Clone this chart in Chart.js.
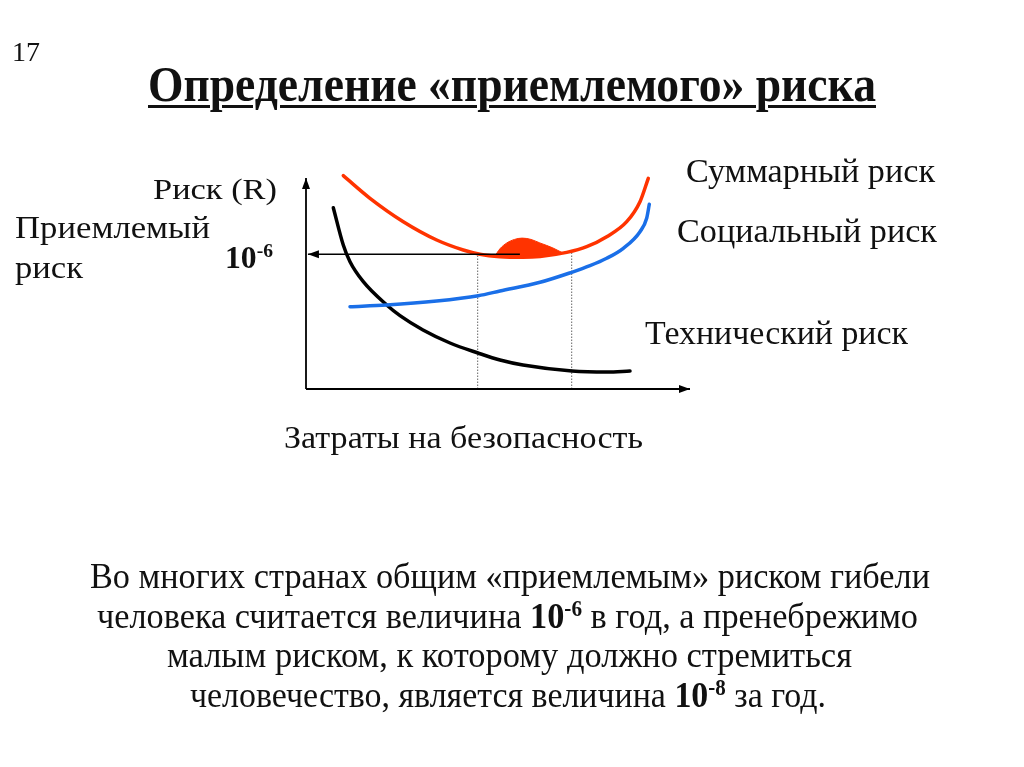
<!DOCTYPE html>
<html><head><meta charset="utf-8">
<script src="https://cdn.jsdelivr.net/npm/chart.js@4/dist/chart.umd.min.js"></script>
<style>
html,body{margin:0;padding:0;background:#fff;width:1024px;height:767px;overflow:hidden}
#wrap{position:relative;width:1024px;height:767px}
canvas{position:absolute;left:0;top:0}
.t{position:absolute;white-space:nowrap;font-family:"Liberation Serif","Times New Roman",serif;color:#111;line-height:1;transform-origin:0 0;display:inline-block}
.t sup{vertical-align:baseline;position:relative;top:-0.55em;font-size:0.62em;font-weight:bold}
</style></head>
<body><div id="wrap"><canvas id="c" width="1024" height="767"></canvas></div>
<script>
// ---- data (x: safety costs, y: risk, arbitrary units) ----
const totalRiskX  = [9.71, 16.67, 25.34, 34.04, 40.96, 45.31, 50.52, 56.51, 60.94, 67.89, 73.10, 78.31, 83.52, 86.98, 89.14];
const totalRiskY  = [97.4, 87.08, 76.39, 68.04, 63.47, 61.51, 60.41, 60.14, 60.50, 62.37, 64.98, 69.54, 76.39, 85.53, 96.21];
const socialRiskX = [11.46, 21.02, 34.04, 44.87, 50.52, 60.94, 69.19, 73.96, 78.31, 82.63, 86.98, 88.72, 89.40];
const socialRiskY = [37.58, 38.36, 40.18, 42.60, 44.75, 48.72, 53.29, 56.30, 59.68, 64.25, 71.83, 77.95, 84.34];
const techRiskX   = [7.11, 9.71, 11.46, 14.92, 21.02, 24.48, 30.47, 37.50, 44.79, 50.52, 56.51, 69.27, 78.39, 84.38];
const techRiskY   = [82.79, 65.75, 58.13, 49.00, 38.36, 33.50, 26.94, 21.00, 16.44, 13.24, 10.96, 8.22, 7.76, 8.22];
const bumpX       = [49.2, 50.5, 52.3, 54.3, 56.3, 58.6, 60.9, 62.6, 64.3, 66.9];
const bumpTopY    = [60.7, 64.0, 66.7, 68.3, 68.9, 68.3, 66.7, 65.6, 64.4, 62.1];
const bumpBaseY   = [60.7, 60.4, 60.3, 60.2, 60.15, 60.3, 60.5, 60.95, 61.4, 62.1];
const acceptLevel = 61.5;           // 10^-6 level
const acceptFromX = [55.7, 0.5];    // arrow from curve minimum to the risk axis
const dropX       = [44.71, 69.19]; // dotted verticals
const dropTopY    = [61.5, 62.4];
const xAxisEnd    = 100;
const yAxisEnd    = 96.3;

const texts = [
  {h:'17', x:12, b:62, s:27, w:28},
  {h:'Определение «приемлемого» риска', x:148, b:101, s:50, w:728, bold:true, u:true},
  {h:'Риск (R)', x:153, b:199, s:30, w:124},
  {h:'Приемлемый', x:15, b:238, s:32, w:195},
  {h:'риск', x:15, b:278, s:32, w:68},
  {h:'10<sup>-6</sup>', x:225, b:268, s:32, w:48, bold:true},
  {h:'Суммарный риск', x:686, b:182, s:34, w:249},
  {h:'Социальный риск', x:677, b:242, s:34, w:260},
  {h:'Технический риск', x:645, b:344, s:34, w:263},
  {h:'Затраты на безопасность', x:284, b:448, s:31, w:359},
  {h:'Во многих странах общим «приемлемым» риском гибели', x:90, b:588, s:36, w:840},
  {h:'человека считается величина <b>10<sup>-6</sup></b> в год, а пренебрежимо', x:97, b:628, s:36, w:821},
  {h:'малым риском, к которому должно стремиться', x:167, b:667, s:36, w:685},
  {h:'человечество, является величина <b>10<sup>-8</sup></b> за год.', x:190, b:707, s:36, w:636}
];

const zip = (xs, ys) => xs.map((x, i) => ({x, y: ys[i]}));
const zipC = (xs, y) => xs.map(x => ({x, y}));

const RED = '#ff3300', BLUE = '#1a6fe8', BLACK = '#000';
const curve = (data, color) => ({data, borderColor: color, borderWidth: 3.5, pointRadius: 0,
  showLine: true, cubicInterpolationMode: 'monotone', fill: false, clip: false, borderCapStyle: 'round'});
const straight = (data, color, w, dash) => ({data, borderColor: color, borderWidth: w, pointRadius: 0,
  showLine: true, tension: 0, fill: false, clip: false, borderDash: dash || []});

const arrowPlugin = {
  id: 'arrows',
  afterDatasetsDraw(chart) {
    const {ctx, scales: {x, y}} = chart;
    function head(x1, y1, x2, y2) {
      const px1 = x.getPixelForValue(x1), py1 = y.getPixelForValue(y1);
      const px2 = x.getPixelForValue(x2), py2 = y.getPixelForValue(y2);
      const a = Math.atan2(py2 - py1, px2 - px1), L = 11, W = 4;
      ctx.save();
      ctx.beginPath();
      ctx.moveTo(px2, py2);
      ctx.lineTo(px2 - L * Math.cos(a) + W * Math.sin(a), py2 - L * Math.sin(a) - W * Math.cos(a));
      ctx.lineTo(px2 - L * Math.cos(a) - W * Math.sin(a), py2 - L * Math.sin(a) + W * Math.cos(a));
      ctx.closePath();
      ctx.fillStyle = '#000';
      ctx.fill();
      ctx.restore();
    }
    head(0, 0, 0, yAxisEnd);
    head(0, 0, xAxisEnd, 0);
    head(acceptFromX[0], acceptLevel, acceptFromX[1], acceptLevel);
  }
};

new Chart(document.getElementById('c'), {
  type: 'scatter',
  data: {
    datasets: [
      straight(zipC(acceptFromX, acceptLevel), BLACK, 1.5),
      straight([{x: 0, y: 0}, {x: 0, y: yAxisEnd}], BLACK, 1.8),
      straight([{x: 0, y: 0}, {x: xAxisEnd, y: 0}], BLACK, 1.8),
      curve(zip(totalRiskX, totalRiskY), RED),
      curve(zip(socialRiskX, socialRiskY), BLUE),
      curve(zip(techRiskX, techRiskY), BLACK),
      straight([{x: dropX[0], y: 0}, {x: dropX[0], y: dropTopY[0]}], '#666', 1, [1.5, 1.5]),
      straight([{x: dropX[1], y: 0}, {x: dropX[1], y: dropTopY[1]}], '#666', 1, [1.5, 1.5]),
      Object.assign(curve(zip(bumpX, bumpTopY), RED), {borderWidth: 1, fill: '+1', backgroundColor: RED}),
      Object.assign(curve(zip(bumpX, bumpBaseY), RED), {borderWidth: 0})
    ]
  },
  options: {
    responsive: false,
    animation: false,
    devicePixelRatio: 1,
    layout: {padding: {left: 306, right: 334, top: 170, bottom: 378}},
    plugins: {legend: {display: false}, tooltip: {enabled: false}},
    scales: {
      x: {type: 'linear', min: 0, max: 100, display: false},
      y: {type: 'linear', min: 0, max: 100, display: false}
    }
  },
  plugins: [arrowPlugin]
});

const wrap = document.getElementById('wrap');
texts.forEach(t => {
  const d = document.createElement('div');
  d.className = 't';
  d.innerHTML = t.h;
  d.style.fontSize = t.s + 'px';
  d.style.left = t.x + 'px';
  d.style.top = (t.b - 0.8375 * t.s) + 'px';
  if (t.bold) d.style.fontWeight = 'bold';
  if (t.u) { d.style.textDecoration = 'underline'; d.style.textDecorationThickness = '3px'; d.style.textUnderlineOffset = '4px'; }
  wrap.appendChild(d);
  const nat = d.getBoundingClientRect().width;
  if (t.w && nat > 0) d.style.transform = 'scaleX(' + (t.w / nat) + ')';
});
</script>
</body></html>
